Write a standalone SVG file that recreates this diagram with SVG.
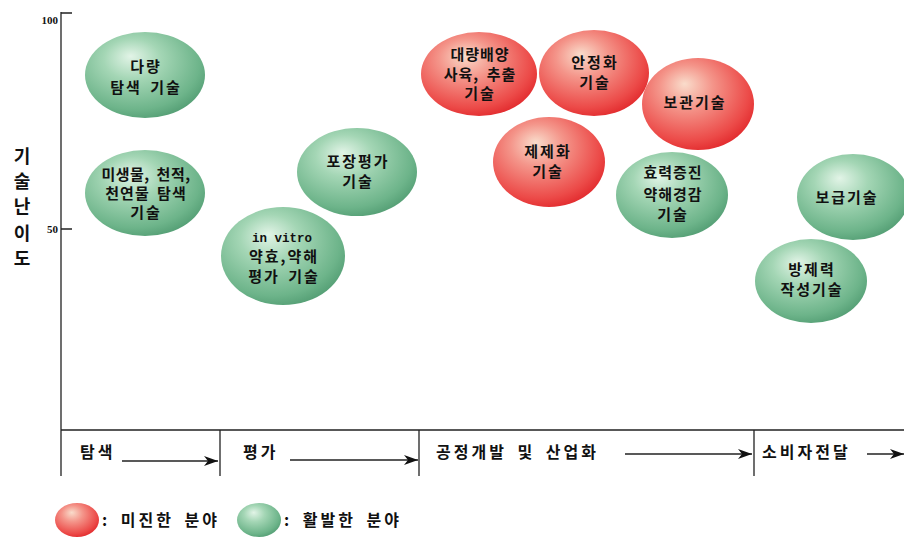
<svg xmlns="http://www.w3.org/2000/svg" width="904" height="539" viewBox="0 0 904 539">
<defs>
<radialGradient id="gG" cx="0.42" cy="0.38" r="0.68" fx="0.38" fy="0.28">
<stop offset="0" stop-color="#e2f4e7"/>
<stop offset="0.35" stop-color="#a4d6b5"/>
<stop offset="0.8" stop-color="#6db48a"/>
<stop offset="1" stop-color="#4f9a70"/>
</radialGradient>
<radialGradient id="gR" cx="0.42" cy="0.38" r="0.68" fx="0.38" fy="0.28">
<stop offset="0" stop-color="#f9dccb"/>
<stop offset="0.35" stop-color="#f4958a"/>
<stop offset="0.8" stop-color="#ec4a48"/>
<stop offset="1" stop-color="#e02428"/>
</radialGradient>
<marker id="arr" viewBox="0 0 14 10" refX="14" refY="5" markerWidth="14" markerHeight="10" markerUnits="userSpaceOnUse" orient="auto">
<path d="M0,0 L14,5 L0,10 L4,5 Z" fill="#111"/>
</marker>
</defs>
<style>
.ax{stroke:#222;stroke-width:1.3;fill:none}
.t{font-family:"Noto Sans CJK KR","Noto Sans",sans-serif;font-weight:bold;font-size:15px;letter-spacing:2px;word-spacing:3px;fill:#111;text-anchor:middle}
.s{font-family:"Noto Sans CJK KR","Noto Sans",sans-serif;font-weight:bold;font-size:16px;letter-spacing:3px;word-spacing:4px;fill:#111}
.n{font-family:"Liberation Serif",serif;font-weight:bold;font-size:11px;fill:#111;text-anchor:end}
.m{font-family:"Liberation Mono",monospace;font-weight:bold;font-size:12.5px;fill:#111;text-anchor:middle}
.y{font-family:"Noto Sans CJK KR","Noto Sans",sans-serif;font-weight:bold;font-size:18px;fill:#111;text-anchor:middle}
.g{fill:url(#gG)}
.r{fill:url(#gR)}
</style>
<rect width="904" height="539" fill="#fff"/>
<g id="axes">
<path class="ax" d="M61,12 V476 M61,13 H72 M61,229 H72 M61,430 H904 M220,430 V476 M419,430 V476 M754,430 V476"/>
<text class="n" x="58" y="24">100</text>
<text class="n" x="58" y="233">50</text>
<text class="y" x="22" y="163">기</text>
<text class="y" x="22" y="188">술</text>
<text class="y" x="22" y="213">난</text>
<text class="y" x="22" y="240">이</text>
<text class="y" x="22" y="265">도</text>
</g>
<g id="stages">
<text class="s" x="80" y="458">탐색</text>
<text class="s" x="243" y="458">평가</text>
<text class="s" x="436" y="458">공정개발 및 산업화</text>
<text class="s" x="762" y="458">소비자전달</text>
</g>
<g id="connectors">
<line class="ax" x1="122" y1="461" x2="218" y2="461" marker-end="url(#arr)"/>
<line class="ax" x1="290" y1="460" x2="418" y2="460" marker-end="url(#arr)"/>
<line class="ax" x1="625" y1="454" x2="752" y2="454" marker-end="url(#arr)"/>
<line class="ax" x1="867" y1="454" x2="904" y2="454" marker-end="url(#arr)"/>
</g>
<g id="n1"><ellipse class="g" cx="145" cy="75" rx="60" ry="43"/><text class="t" x="146" y="72">다량</text><text class="t" x="146" y="93">탐색 기술</text></g>
<g id="n2"><ellipse class="g" cx="145" cy="193" rx="60" ry="43"/><text class="t" x="146" y="180" style="letter-spacing:0.5px">미생물, 천적,</text><text class="t" x="146" y="199" style="letter-spacing:1px">천연물 탐색</text><text class="t" x="146" y="218">기술</text></g>
<g id="n3"><ellipse class="g" cx="357" cy="172" rx="60" ry="44"/><text class="t" x="358" y="167">포장평가</text><text class="t" x="358" y="187">기술</text></g>
<g id="n4"><ellipse class="g" cx="283" cy="256" rx="62" ry="49"/><text class="m" x="282" y="242">in vitro</text><text class="t" x="284" y="262">약효,약해</text><text class="t" x="284" y="282">평가 기술</text></g>
<g id="n5"><ellipse class="r" cx="479" cy="74" rx="58" ry="42"/><text class="t" x="480" y="60" style="letter-spacing:1px">대량배양</text><text class="t" x="480" y="80" style="letter-spacing:1px">사육, 추출</text><text class="t" x="480" y="99">기술</text></g>
<g id="n6"><ellipse class="r" cx="594" cy="73" rx="55" ry="43"/><text class="t" x="595" y="68">안정화</text><text class="t" x="595" y="88">기술</text></g>
<g id="n7"><ellipse class="r" cx="549" cy="162" rx="56" ry="45"/><text class="t" x="548" y="157">제제화</text><text class="t" x="548" y="177">기술</text></g>
<g id="n8"><ellipse class="r" cx="698" cy="104" rx="56" ry="46"/><text class="t" x="695" y="108">보관기술</text></g>
<g id="n9"><ellipse class="g" cx="672" cy="195" rx="56" ry="43"/><text class="t" x="673" y="178" style="letter-spacing:1px">효력증진</text><text class="t" x="673" y="200" style="letter-spacing:1px">약해경감</text><text class="t" x="673" y="220">기술</text></g>
<g id="n10"><ellipse class="g" cx="853" cy="197" rx="56" ry="43"/><text class="t" x="847" y="203">보급기술</text></g>
<g id="n11"><ellipse class="g" cx="811" cy="281" rx="56" ry="42"/><text class="t" x="812" y="275">방제력</text><text class="t" x="812" y="295">작성기술</text></g>
<g id="legend">
<ellipse class="r" cx="77" cy="520" rx="22" ry="17"/>
<text class="s" x="102" y="526">: 미진한 분야</text>
<ellipse class="g" cx="259" cy="520" rx="22" ry="17"/>
<text class="s" x="284" y="526">: 활발한 분야</text>
</g>
</svg>
